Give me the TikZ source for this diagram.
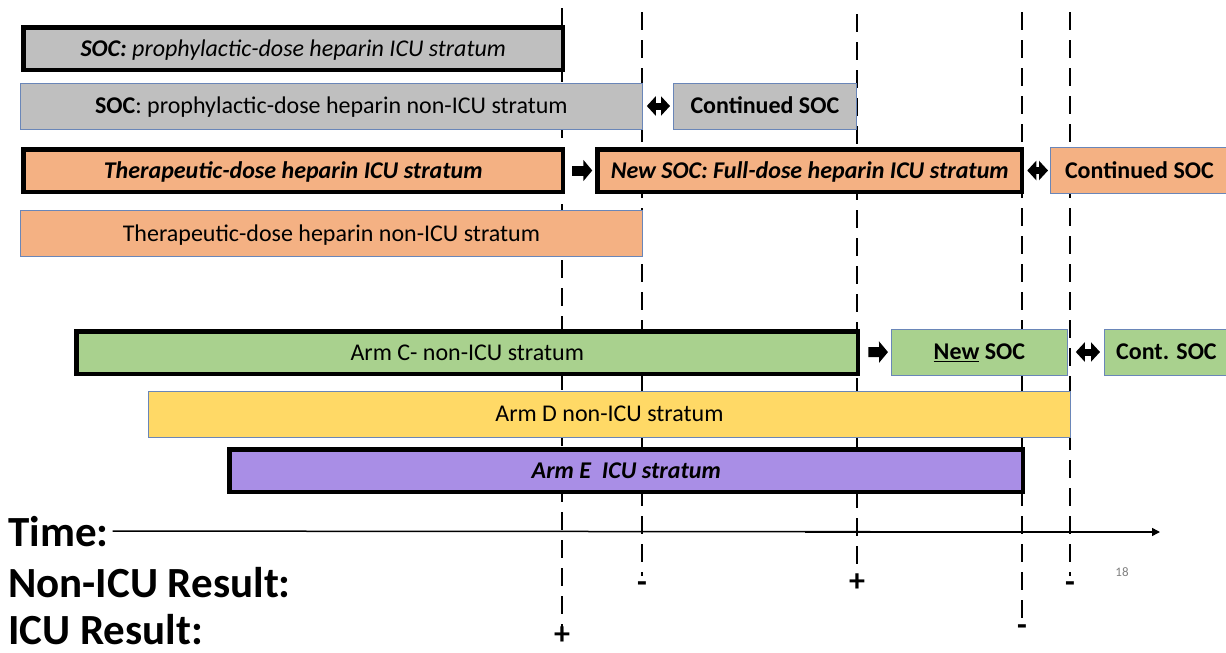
\documentclass[tikz,border=0pt]{standalone}
\usepackage{fontspec}
\setmainfont{Carlito}
\usetikzlibrary{arrows.meta,positioning}
\definecolor{socgray}{HTML}{BFBFBF}
\definecolor{heporange}{HTML}{F4B183}
\definecolor{armgreen}{HTML}{A9D18E}
\definecolor{armyellow}{HTML}{FFD966}
\definecolor{armpurple}{HTML}{A98EE6}
\definecolor{thinedge}{HTML}{6A86B8}
\tikzset{
  bar/.style={anchor=west, inner sep=0pt, text height=18pt, text depth=2.5pt, font=\fontsize{24}{28}\selectfont},
  thin bar/.style={bar, draw=thinedge, line width=0.8pt, minimum height=46pt},
  thick bar/.style={bar, draw=black, line width=4.5pt, minimum height=42.5pt},
  step arrow/.style={-{Triangle[length=9pt,width=21pt]}, line width=10pt},
  swap arrow/.style={{Triangle[length=9pt,width=19pt]}-{Triangle[length=9pt,width=19pt]}, line width=7pt},
  cut/.style={line width=2.6pt, dash pattern=on 18pt off 10pt},
  row label/.style={anchor=base west, inner sep=0pt, font=\fontsize{43}{48}\selectfont\bfseries},
  result/.style={inner sep=0pt, font=\fontsize{32}{36}\selectfont\bfseries},
}

\begin{document}
\begin{tikzpicture}[x=1pt, y=-1pt]
  \useasboundingbox (0,0) rectangle (1226,653);

  % Results at each analysis
  \node[result] (icuplus) at (562,636) {+};
  \node[result] (nonminusA) at (642,587) {-};
  \node[result] (nonplus) at (857,583) {+};
  \node[result] (icuminus) at (1022,630) {-};
  \node[result] (nonminusB) at (1070,587) {-};

  % Analysis times
  \coordinate (cutA) at (562,8);
  \coordinate (cutB) at (642,12);
  \coordinate (cutC) at (857,14);
  \coordinate (cutD) at (1022,12);
  \coordinate (cutE) at (1070,12);
  \draw[cut] (cutA) -- (icuplus.north);
  \draw[cut, shorten >=5pt] (cutB) -- (nonminusA.north);
  \draw[cut, shorten >=2pt] (cutC) -- (nonplus.north);
  \draw[cut, shorten >=5pt] (cutD) -- (icuminus.north);
  \draw[cut, shorten >=5pt] (cutE) -- (nonminusB.north);

  % Heparin strata
  \node[thick bar, fill=socgray, minimum width=539.5pt, font=\fontsize{24}{28}\selectfont\itshape] (socicu) at (21.25,48.5)
    {\textbf{SOC:} prophylactic-dose heparin ICU stratum};
  \node[thin bar, fill=socgray, minimum width=622pt] (socnon) at (20,106)
    {\textbf{SOC}: prophylactic-dose heparin non-ICU stratum};
  \node[thin bar, fill=socgray, minimum width=183pt, font=\fontsize{24}{28}\selectfont\bfseries] (soccont) at (673,106)
    {Continued SOC};
  \node[thick bar, fill=heporange, minimum width=539.5pt, font=\fontsize{24}{28}\selectfont\bfseries\itshape] (hepicu) at (21.25,170.5)
    {Therapeutic-dose heparin ICU stratum};
  \node[thick bar, fill=heporange, minimum width=424.5pt, font=\fontsize{24}{28}\selectfont\bfseries\itshape] (newsoc) at (595.25,170.5)
    {New SOC: Full-dose heparin ICU stratum};
  \node[thin bar, fill=heporange, minimum width=178pt, font=\fontsize{24}{28}\selectfont\bfseries] (hepcont) at (1050,170.5)
    {Continued SOC};
  \node[thin bar, fill=heporange, minimum width=622pt] (hepnon) at (20,233.5)
    {Therapeutic-dose heparin non-ICU stratum};

  % Other arms
  \node[thick bar, fill=armgreen, minimum width=781.5pt] (armc) at (74.25,352.5)
    {Arm C- non-ICU stratum};
  \node[thin bar, fill=armgreen, minimum width=176pt, font=\fontsize{24}{28}\selectfont\bfseries] (armcnew) at (891,352)
    {\underline{New} SOC};
  \node[thin bar, fill=armgreen, minimum width=124pt, font=\fontsize{24}{28}\selectfont\bfseries] (armccont) at (1104,352)
    {Cont. SOC};
  \node[thin bar, fill=armyellow, minimum width=922pt] (armd) at (148,414)
    {Arm D non-ICU stratum};
  \node[thick bar, fill=armpurple, minimum width=793.5pt, font=\fontsize{24}{28}\selectfont\bfseries\itshape] (arme) at (227.25,470.5)
    {Arm E~~ICU stratum};

  % Transitions
  \draw[swap arrow, shorten <=4pt, shorten >=3pt] (socnon) -- (soccont);
  \draw[step arrow, shorten <=7pt, shorten >=3pt] (hepicu) -- (newsoc);
  \draw[swap arrow, shorten <=3pt, shorten >=2pt] (newsoc) -- (hepcont);
  \draw[step arrow, shorten <=8pt, shorten >=3pt] (armc) -- (armcnew);
  \draw[swap arrow, shorten <=8pt, shorten >=4pt] (armcnew) -- (armccont);

  % Time axis and result rows
  \node[row label] (time) at (8,546) {Time:};
  \node[row label] (nonicu) at (8,597) {Non-ICU Result:};
  \node[row label] (icu) at (8,644) {ICU Result:};
  \coordinate (timeend) at (1160,532);
  \coordinate (timemid) at (805,532);
  \draw[line width=1.5pt, -{Triangle[length=8pt,width=8pt]}] ([xshift=4pt]time.east) -- (timeend);
  \draw[line width=2.4pt] (timemid) -- ([xshift=-8pt]timeend);

  % Slide number
  \node[text=gray, font=\fontsize{13}{15}\selectfont] (slideno) at (1122,572) {18};
\end{tikzpicture}
\end{document}
